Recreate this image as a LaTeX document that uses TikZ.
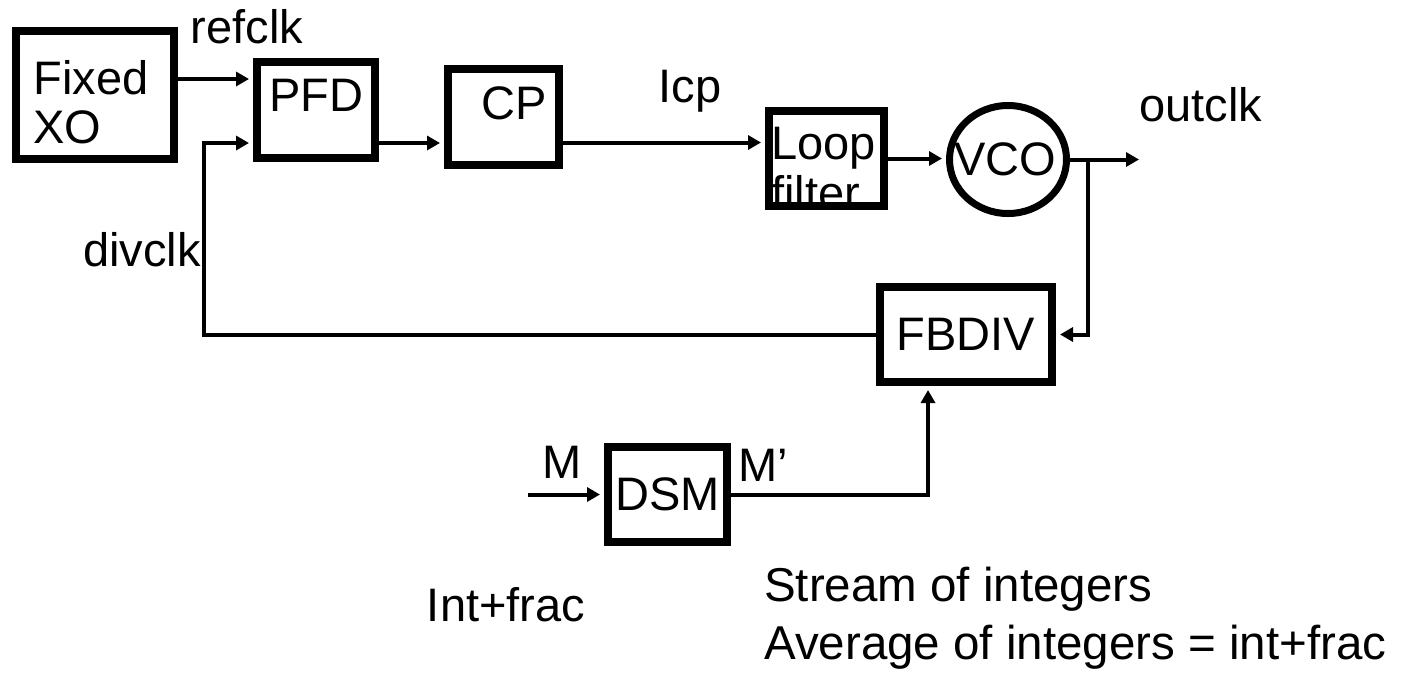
\documentclass[tikz,border=0pt]{standalone}
\usepackage{fontspec}
\setmainfont{Liberation Sans}
\usetikzlibrary{arrows.meta, shapes.geometric, positioning}
\newcommand{\pllfont}{\fontsize{47}{49}\selectfont}
\tikzset{
  blk/.style={draw, line width=8pt, inner sep=0pt, font=\pllfont},
  osc/.style={draw, ellipse, line width=7pt, inner sep=0pt},
  sig/.style={line width=4pt, -{Triangle[length=13pt,width=14pt]}, shorten >=4pt},
  lbl/.style={font=\pllfont, inner sep=0pt},
}

\begin{document}
\begin{tikzpicture}[x=1pt, y=-1pt]
  % same size as the reference, in pixels
  \useasboundingbox (0,0) rectangle (1404,673);

  % blocks
  \node[blk, minimum width=158pt, minimum height=128pt,
        label={[lbl, align=left, xshift=-4pt, yshift=-7pt]center:Fixed\\XO}] (xo) at (95,95) {};
  \node[blk, minimum width=118pt, minimum height=96pt,
        label={[lbl, yshift=15pt]center:PFD}] (pfd) at (316,110) {};
  \node[blk, minimum width=111pt, minimum height=96pt,
        label={[lbl, xshift=11pt, yshift=14pt]center:CP}] (cp) at (503.5,117) {};
  \node[blk, minimum width=115pt, minimum height=95pt,
        label={[lbl, align=left, xshift=-3pt, yshift=-10pt, font=\fontsize{47}{50}\selectfont]center:Loop\\filter}] (loop) at (826.5,158.5) {};
  \node[osc, minimum width=117pt, minimum height=108pt,
        label={[lbl, xshift=-3pt]center:VCO}] (vco) at (1008,159.5) {};
  \node[blk, minimum width=172pt, minimum height=95pt] (fbdiv) at (966,334.5) {FBDIV};
  \node[blk, minimum width=119pt, minimum height=95pt] (dsm) at (667.5,494.5) {DSM};

  % pins and free ends
  \coordinate (refin) at ([yshift=31pt]pfd.west);
  \coordinate (divin) at ([yshift=-33pt]pfd.west);
  \coordinate (lfin)  at ([yshift=16pt]loop.west);
  \coordinate (tap)   at (1088,158);
  \coordinate (outend) at (1139,158);
  \coordinate (min)   at (528,494.5);

  % forward path
  \draw[sig] (xo.east |- refin) -- (refin);
  \draw[sig] (pfd.east |- divin) -- (cp.west |- divin);
  \draw[sig] (cp.east |- lfin) -- (lfin);
  \draw[sig] (loop.east) -- (loop.east -| vco.west);
  \draw[sig, shorten >=0pt] (vco.east) -- (vco.east -| outend);

  % feedback path
  \draw[sig] (vco.east -| tap) |- (fbdiv.east);
  \draw[sig] (fbdiv.west) -- ++(-672,0) |- (divin);
  \draw[sig] (min) -- (dsm.west);
  \draw[sig] (dsm.east) -| ([xshift=-38pt]fbdiv.south);

  % signal names
  \node[lbl] (refclk) at (247,27) {refclk};
  \node[lbl] (icp) at (690,91) {Icp};
  \node[lbl] (outclk) at (1201,105) {outclk};
  \node[lbl] (divclk) at (142,250) {divclk};
  \node[lbl] (mname) at (562,462.5) {M};
  \node[lbl] (mpname) at (763,465) {M’};
  \node[lbl] (intfrac) at (506,604.5) {Int+frac};
  \node[lbl, anchor=west, align=left, font=\fontsize{47.5}{58}\selectfont] (note) at (764,618.5)
    {Stream of integers\\Average of integers = int+frac};
\end{tikzpicture}
\end{document}
